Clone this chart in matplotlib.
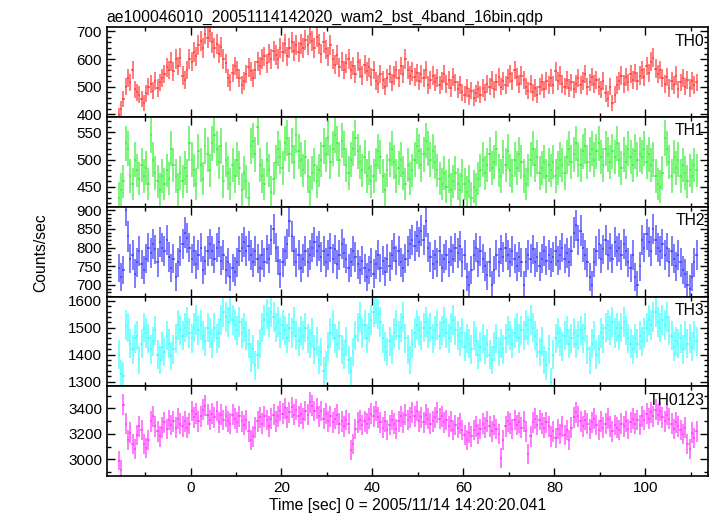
import numpy as np
import matplotlib
matplotlib.use("Agg")
import matplotlib.pyplot as plt
from matplotlib.ticker import MultipleLocator

plt.rcParams['font.family'] = ['Liberation Sans', 'DejaVu Sans']

# light curve, 0.5 s bins starting at t = -15.75 s
T0 = -15.75
BIN = 0.5

th0 = [
    395, 420, 455, 500, 530, 515, 560, 490, 480, 470,
    455, 440, 475, 500, 510, 485, 520, 495, 515, 530,
    545, 570, 560, 590, 555, 600, 575, 605, 540, 525,
    560, 600, 590, 625, 610, 650, 665, 640, 690, 675,
    700, 660, 640, 655, 620, 645, 600, 585, 530, 515,
    550, 575, 560, 530, 505, 520, 545, 570, 555, 530,
    560, 590, 575, 600, 610, 585, 620, 600, 630, 615,
    600, 640, 625, 655, 610, 640, 660, 630, 650, 625,
    655, 640, 670, 650, 690, 665, 640, 680, 655, 620,
    660, 635, 610, 650, 600, 580, 615, 570, 590, 560,
    585, 600, 560, 575, 545, 590, 565, 540, 580, 555,
    570, 535, 560, 520, 510, 545, 525, 500, 530, 545,
    515, 540, 560, 530, 575, 545, 600, 560, 540, 555,
    535, 550, 520, 545, 530, 560, 505, 525, 540, 515,
    530, 505, 520, 545, 510, 525, 495, 535, 515, 490,
    505, 480, 470, 495, 465, 485, 460, 475, 490, 470,
    495, 480, 510, 500, 525, 490, 515, 535, 500, 520,
    505, 530, 545, 520, 560, 535, 510, 540, 525, 500,
    485, 510, 480, 495, 470, 500, 515, 490, 520, 505,
    530, 505, 555, 520, 540, 510, 500, 525, 495, 515,
    490, 510, 530, 505, 520, 545, 500, 515, 535, 510,
    525, 500, 490, 520, 475, 455, 500, 440, 470, 505,
    520, 540, 510, 535, 515, 545, 525, 550, 520, 540,
    560, 535, 575, 550, 590, 605, 565, 545, 560, 530,
    510, 535, 495, 520, 505, 540, 490, 515, 530, 500,
    525, 495, 520, 505, 515,
]

th1 = [
    430, 445, 460, 530, 520, 470, 455, 500, 480, 465,
    490, 470, 485, 455, 545, 500, 475, 460, 445, 470,
    455, 480, 465, 520, 490, 470, 445, 475, 460, 485,
    470, 530, 500, 480, 455, 515, 490, 465, 525, 510,
    480, 530, 545, 520, 495, 525, 460, 500, 475, 455,
    490, 470, 500, 485, 445, 475, 460, 430, 525, 535,
    510, 560, 490, 470, 455, 500, 480, 440, 465, 495,
    520, 505, 485, 530, 540, 510, 525, 495, 545, 515,
    500, 480, 505, 470, 440, 475, 490, 460, 480, 500,
    525, 510, 540, 495, 520, 545, 530, 500, 535, 520,
    490, 475, 500, 520, 540, 515, 495, 480, 505, 470,
    485, 460, 470, 490, 515, 505, 470, 445, 480, 500,
    520, 495, 470, 485, 500, 475, 455, 490, 465, 480,
    500, 525, 515, 490, 510, 535, 520, 500, 515, 495,
    480, 465, 455, 475, 450, 470, 445, 460, 475, 455,
    445, 470, 455, 440, 460, 430, 450, 445, 465, 480,
    500, 475, 490, 510, 485, 495, 520, 480, 470, 505,
    490, 515, 480, 470, 500, 485, 510, 495, 470, 455,
    480, 500, 520, 490, 505, 475, 485, 495, 470, 490,
    480, 495, 470, 485, 500, 490, 475, 505, 520, 495,
    510, 530, 500, 490, 515, 525, 495, 510, 520, 500,
    515, 530, 505, 490, 520, 510, 495, 515, 505, 530,
    500, 485, 510, 495, 520, 505, 490, 515, 500, 510,
    505, 520, 495, 510, 490, 500, 470, 455, 450, 475,
    540, 520, 495, 470, 505, 485, 500, 470, 490, 475,
    460, 480, 470, 490, 480,
]

th2 = [
    745, 720, 740, 900, 830, 770, 780, 730, 760, 790,
    755, 740, 770, 800, 785, 810, 795, 760, 815, 800,
    790, 820, 775, 745, 770, 720, 760, 790, 810, 840,
    825, 800, 770, 790, 755, 780, 800, 740, 765, 790,
    810, 790, 770, 800, 815, 765, 780, 740, 760, 720,
    745, 735, 760, 790, 800, 815, 790, 805, 780, 760,
    790, 770, 745, 780, 760, 795, 770, 820, 850, 800,
    765, 730, 760, 790, 810, 870, 830, 790, 760, 780,
    745, 770, 790, 760, 780, 800, 815, 790, 805, 775,
    790, 760, 780, 800, 770, 795, 755, 780, 810, 785,
    770, 745, 760, 790, 775, 755, 740, 765, 745, 720,
    740, 760, 730, 755, 780, 745, 765, 735, 770, 750,
    780, 800, 765, 790, 760, 745, 770, 790, 810, 820,
    805, 830, 815, 845, 820, 870, 800, 775, 755, 780,
    760, 790, 745, 770, 780, 760, 790, 770, 800, 785,
    805, 760, 780, 720, 700, 740, 780, 800, 760, 790,
    770, 750, 725, 760, 700, 740, 780, 760, 795, 775,
    800, 780, 760, 790, 770, 750, 775, 760, 700, 760,
    780, 770, 795, 760, 775, 750, 770, 790, 765, 780,
    760, 775, 790, 765, 780, 800, 770, 785, 760, 790,
    840, 860, 820, 845, 800, 780, 760, 720, 700, 760,
    790, 810, 770, 795, 820, 780, 800, 770, 815, 790,
    800, 780, 810, 790, 760, 745, 780, 720, 700, 750,
    820, 800, 835, 815, 790, 850, 820, 800, 790, 810,
    780, 800, 760, 790, 770, 750, 780, 760, 740, 730,
    700, 690, 720, 760, 780,
]

th3 = [
    1400, 1330, 1320, 1510, 1500, 1440, 1420, 1460, 1470, 1380,
    1440, 1500, 1480, 1460, 1420, 1450, 1490, 1400, 1380, 1430,
    1410, 1470, 1440, 1395, 1420, 1460, 1510, 1490, 1470, 1500,
    1520, 1480, 1460, 1500, 1530, 1490, 1510, 1470, 1450, 1500,
    1480, 1440, 1500, 1460, 1480, 1530, 1560, 1540, 1520, 1570,
    1530, 1510, 1490, 1520, 1480, 1500, 1470, 1440, 1390, 1420,
    1360, 1400, 1440, 1500, 1530, 1550, 1520, 1560, 1540, 1500,
    1520, 1480, 1510, 1490, 1460, 1500, 1480, 1520, 1470, 1450,
    1490, 1470, 1500, 1460, 1440, 1480, 1420, 1450, 1380, 1410,
    1340, 1360, 1430, 1480, 1510, 1460, 1440, 1470, 1420, 1400,
    1450, 1380, 1340, 1410, 1470, 1500, 1540, 1480, 1510, 1460,
    1500, 1530, 1560, 1570, 1550, 1520, 1460, 1430, 1410, 1450,
    1420, 1480, 1510, 1470, 1500, 1540, 1460, 1420, 1380, 1440,
    1480, 1510, 1490, 1470, 1500, 1520, 1480, 1500, 1460, 1490,
    1510, 1470, 1490, 1520, 1480, 1460, 1500, 1530, 1490, 1470,
    1450, 1480, 1430, 1460, 1440, 1420, 1470, 1450, 1400, 1430,
    1460, 1420, 1440, 1400, 1380, 1430, 1460, 1410, 1440, 1420,
    1460, 1490, 1470, 1440, 1480, 1500, 1460, 1490, 1470, 1510,
    1490, 1530, 1500, 1470, 1440, 1410, 1450, 1380, 1360, 1420,
    1300, 1400, 1460, 1480, 1450, 1430, 1470, 1490, 1440, 1460,
    1480, 1440, 1470, 1490, 1460, 1500, 1420, 1380, 1440, 1470,
    1400, 1420, 1480, 1460, 1500, 1510, 1490, 1520, 1480, 1500,
    1470, 1500, 1520, 1490, 1460, 1440, 1420, 1460, 1440, 1470,
    1450, 1480, 1500, 1530, 1510, 1540, 1560, 1520, 1500, 1530,
    1510, 1540, 1490, 1470, 1430, 1450, 1440, 1460, 1420, 1470,
    1440, 1460, 1430, 1470, 1450,
]

th0123 = [
    2990, 2920, 3430, 3280, 3150, 3210, 3120, 3080, 3190, 3260,
    3230, 3120, 3090, 3150, 3300, 3340, 3260, 3220, 3180, 3250,
    3290, 3240, 3310, 3270, 3300, 3250, 3320, 3280, 3260, 3300,
    3250, 3280, 3380, 3330, 3360, 3300, 3340, 3390, 3420, 3350,
    3310, 3360, 3330, 3380, 3290, 3350, 3310, 3340, 3300, 3280,
    3350, 3320, 3290, 3340, 3300, 3270, 3310, 3220, 3150, 3180,
    3250, 3300, 3330, 3280, 3340, 3310, 3260, 3320, 3350, 3300,
    3340, 3380, 3360, 3400, 3330, 3370, 3410, 3350, 3390, 3340,
    3360, 3320, 3380, 3350, 3450, 3420, 3380, 3400, 3340, 3380,
    3320, 3360, 3300, 3340, 3290, 3320, 3350, 3280, 3300, 3260,
    3310, 3280, 3070, 3120, 3240, 3290, 3310, 3270, 3300, 3280,
    3320, 3360, 3340, 3380, 3330, 3290, 3250, 3300, 3230, 3270,
    3310, 3280, 3240, 3300, 3340, 3290, 3350, 3310, 3330, 3370,
    3340, 3380, 3300, 3330, 3290, 3350, 3320, 3280, 3300, 3330,
    3370, 3320, 3340, 3290, 3310, 3260, 3300, 3230, 3270, 3250,
    3280, 3230, 3190, 3150, 3210, 3180, 3230, 3260, 3200, 3240,
    3280, 3250, 3300, 3260, 3220, 3270, 3240, 3200, 3010, 3150,
    3260, 3300, 3280, 3240, 3310, 3270, 3290, 3250, 3300, 3220,
    3040, 3180, 3290, 3320, 3270, 3310, 3280, 3250, 3290, 3260,
    3180, 3220, 3170, 3240, 3200, 3260, 3190, 3230, 3150, 3250,
    3330, 3370, 3340, 3300, 3260, 3310, 3280, 3240, 3290, 3320,
    3270, 3230, 3300, 3250, 3280, 3320, 3260, 3220, 3270, 3250,
    3230, 3280, 3260, 3300, 3240, 3290, 3320, 3280, 3310, 3270,
    3340, 3310, 3360, 3320, 3370, 3340, 3390, 3350, 3380, 3330,
    3300, 3350, 3320, 3280, 3240, 3290, 3260, 3230, 3200, 3250,
    3120, 3080, 3210, 3170, 3220,
]

bands = ['TH0', 'TH1', 'TH2', 'TH3', 'TH0123']
series = [th0, th1, th2, th3, th0123]
colors = ['#ff3030', '#30f030', '#3030ff', '#30ffff', '#ff30ff']
ylims = [(389, 715), (413, 578), (668, 909), (1282, 1615), (2867, 3573)]
majors = [100, 50, 50, 100, 200]
minors = [20, 10, 10, 20, 100]

fig, axes = plt.subplots(5, 1, sharex=True, figsize=(7.17, 5.16), dpi=100)
fig.subplots_adjust(left=0.149, right=0.987, top=0.947, bottom=0.077, hspace=0)

for ax, name, vals, c, yl, mj, mn in zip(axes, bands, series, colors, ylims, majors, minors):
    v = np.array(vals, dtype=float)
    t = T0 + BIN * np.arange(len(v))
    err = np.sqrt(v / BIN)
    ax.errorbar(t, v, xerr=BIN / 2, yerr=err, fmt='none', ecolor=c,
                elinewidth=1.1, alpha=0.8)
    ax.set_ylim(*yl)
    ax.yaxis.set_major_locator(MultipleLocator(mj))
    ax.yaxis.set_minor_locator(MultipleLocator(mn))
    ax.xaxis.set_major_locator(MultipleLocator(20))
    ax.xaxis.set_minor_locator(MultipleLocator(10))
    ax.tick_params(which='both', direction='in', top=True, right=True, labelsize=11)
    ax.tick_params(which='major', length=6, width=1)
    ax.tick_params(which='minor', length=3, width=1)
    for s in ax.spines.values():
        s.set_linewidth(1.2)
    ax.text(0.995, 0.93, name, transform=ax.transAxes, ha='right', va='top', fontsize=11.3)

axes[0].set_xlim(-18.4, 113.7)
axes[0].set_title('ae100046010_20051114142020_wam2_bst_4band_16bin.qdp',
                  loc='left', fontsize=11.3, pad=4)
axes[-1].set_xlabel('Time [sec] 0 = 2005/11/14 14:20:20.041', fontsize=11.3, labelpad=2)
fig.text(0.057, 0.51, 'Counts/sec', rotation=90, ha='center', va='center', fontsize=11.3)

fig.savefig('out.png', dpi=100)
